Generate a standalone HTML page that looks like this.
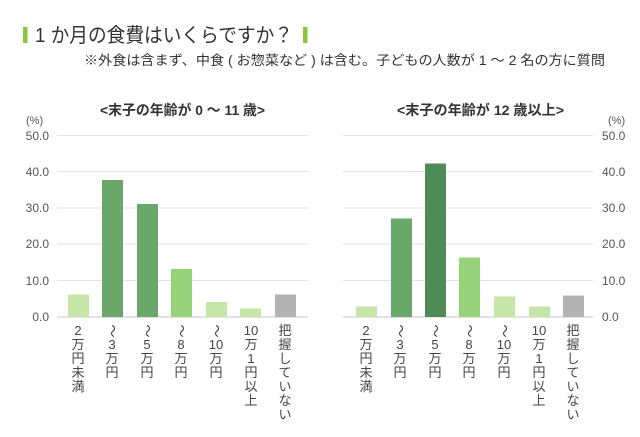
<!DOCTYPE html>
<html><head><meta charset="utf-8"><style>
body{margin:0;background:#fff;}
svg{display:block;font-family:"Liberation Sans","Noto Sans CJK JP",sans-serif;}
</style></head><body>
<svg width="640" height="437" viewBox="0 0 640 437">
<rect x="23" y="27" width="4.5" height="16" fill="#8cc63f"/>
<text x="35" y="42" font-size="20" fill="#333" textLength="258" lengthAdjust="spacingAndGlyphs">1 か月の食費はいくらですか？</text>
<rect x="303" y="27" width="4.5" height="16" fill="#8cc63f"/>
<text x="84" y="65" font-size="13.5" fill="#333" textLength="521" lengthAdjust="spacingAndGlyphs">※外食は含まず、中食 ( お惣菜など ) は含む。子どもの人数が 1 ～ 2 名の方に質問</text>
<text x="100" y="115" font-size="14" font-weight="bold" fill="#333" textLength="165" lengthAdjust="spacingAndGlyphs">&lt;末子の年齢が 0 ～ 11 歳&gt;</text>
<text x="397" y="115" font-size="14" font-weight="bold" fill="#333" textLength="167" lengthAdjust="spacingAndGlyphs">&lt;末子の年齢が 12 歳以上&gt;</text>
<text x="26" y="124" font-size="11" fill="#555">(%)</text>
<text x="608" y="124" font-size="11" fill="#555">(%)</text>
<g font-size="12" fill="#555">
<g text-anchor="end">
<text x="49" y="140">50.0</text><text x="49" y="176">40.0</text><text x="49" y="212">30.0</text><text x="49" y="248">20.0</text><text x="49" y="285">10.0</text><text x="49" y="321">0.0</text>
</g>
<text x="602" y="140">50.0</text><text x="602" y="176">40.0</text><text x="602" y="212">30.0</text><text x="602" y="248">20.0</text><text x="602" y="285">10.0</text><text x="602" y="321">0.0</text>
</g>
<g stroke="#e2e2e2" stroke-width="1">
<line x1="57" x2="308" y1="135.5" y2="135.5"/><line x1="57" x2="308" y1="171.5" y2="171.5"/><line x1="57" x2="308" y1="208" y2="208"/><line x1="57" x2="308" y1="244" y2="244"/><line x1="57" x2="308" y1="280.5" y2="280.5"/>
<line x1="343" x2="593" y1="135.5" y2="135.5"/><line x1="343" x2="593" y1="171.5" y2="171.5"/><line x1="343" x2="593" y1="208" y2="208"/><line x1="343" x2="593" y1="244" y2="244"/><line x1="343" x2="593" y1="280.5" y2="280.5"/>
</g>
<g stroke="#d0d0d0" stroke-width="1.2">
<line x1="57" x2="308" y1="317" y2="317"/><line x1="343" x2="593" y1="317" y2="317"/>
</g>
<!-- left bars -->
<rect x="68" y="294.5" width="21" height="22.5" fill="#c5e6a6"/>
<rect x="102" y="180" width="21" height="137" fill="#6aa86a"/>
<rect x="137" y="204" width="21" height="113" fill="#6aa86a"/>
<rect x="171" y="269" width="21" height="48" fill="#98d27a"/>
<rect x="206" y="302" width="21" height="15" fill="#c5e6a6"/>
<rect x="240" y="308.5" width="21" height="8.5" fill="#c5e6a6"/>
<rect x="275" y="294.5" width="21" height="22.5" fill="#b3b3b3"/>
<!-- right bars -->
<rect x="356" y="306.5" width="21" height="10.5" fill="#c5e6a6"/>
<rect x="391" y="218.5" width="21" height="98.5" fill="#6aa86a"/>
<rect x="425" y="163.5" width="21" height="153.5" fill="#4e8b55"/>
<rect x="459" y="257.5" width="21" height="59.5" fill="#98d27a"/>
<rect x="494" y="296.5" width="21" height="20.5" fill="#c5e6a6"/>
<rect x="529" y="306.5" width="21" height="10.5" fill="#c5e6a6"/>
<rect x="563" y="295.5" width="21" height="21.5" fill="#b3b3b3"/>
<g font-size="13" fill="#444" text-anchor="middle">
<g id="labs">
<text x="78" y="335">2</text><text x="78" y="349">万</text><text x="78" y="363">円</text><text x="78" y="377">未</text><text x="78" y="391">満</text>
<text x="112" y="335" transform="rotate(90 112 331)">～</text><text x="112" y="349">3</text><text x="112" y="363">万</text><text x="112" y="377">円</text>
<text x="147" y="335" transform="rotate(90 147 331)">～</text><text x="147" y="349">5</text><text x="147" y="363">万</text><text x="147" y="377">円</text>
<text x="181" y="335" transform="rotate(90 181 331)">～</text><text x="181" y="349">8</text><text x="181" y="363">万</text><text x="181" y="377">円</text>
<text x="216" y="335" transform="rotate(90 216 331)">～</text><text x="216" y="349">10</text><text x="216" y="363">万</text><text x="216" y="377">円</text>
<text x="251" y="335">10</text><text x="251" y="349">万</text><text x="251" y="363">1</text><text x="251" y="377">円</text><text x="251" y="391">以</text><text x="251" y="405">上</text>
<text x="285" y="335">把</text><text x="285" y="349">握</text><text x="285" y="363">し</text><text x="285" y="377">て</text><text x="285" y="391">い</text><text x="285" y="405">な</text><text x="285" y="419">い</text>
</g>
<use href="#labs" transform="translate(288 0)"/>
</g>
</svg>
</body></html>
